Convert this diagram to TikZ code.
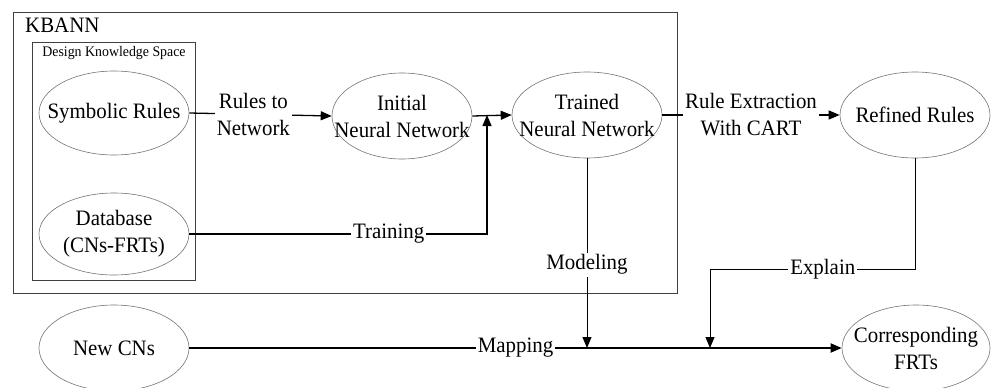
\documentclass[tikz,border=0pt]{standalone}
\usepackage{fontspec}
\setmainfont{Liberation Serif}[FakeStretch=0.95]
\usetikzlibrary{shapes.geometric,arrows.meta}
\begin{document}
\begin{tikzpicture}[x=1pt,y=-1pt,
  txt/.style={font=\fontsize{22}{27}\selectfont},
  ell/.style={ellipse, draw=black!55, line width=0.6pt, inner sep=0pt},
  etxt/.style={txt, align=center, inner sep=0pt},
  boxline/.style={draw=black!75, line width=0.8pt},
  conn/.style={line width=1.3pt, draw=black},
  arr/.style={conn, -{Triangle[length=11pt,width=9pt]}},
  lbl/.style={fill=white, inner sep=2pt, align=center, txt}
]
\useasboundingbox (0,0) rectangle (991,388);
% boxes
\draw[boxline] (13,12) rectangle (677,293);
\node[txt, anchor=base west, inner sep=0pt] (kbann) at (25,32) {KBANN};
\draw[boxline] (32,42) rectangle (195,280);
\node[font=\fontsize{14.6}{16}\selectfont, inner sep=0pt] (dks) at (114,53) {Design Knowledge Space};
% ellipses
\node[ell, minimum width=150pt, minimum height=84pt] (sym) at (114,113) {};
\node[etxt] (symt) at (sym) {Symbolic Rules};
\node[ell, minimum width=150pt, minimum height=82pt] (db) at (114,234) {};
\node[etxt] (dbt) at (db) {Database\\(CNs-FRTs)};
\node[ell, minimum width=140pt, minimum height=86pt] (init) at (402,116) {};
\node[etxt] (initt) at (init) {Initial\\Neural Network};
\node[ell, minimum width=150pt, minimum height=86pt] (tr) at (587,115) {};
\node[etxt] (trt) at (tr) {Trained\\Neural Network};
\node[ell, minimum width=150pt, minimum height=86pt] (ref) at (915,115) {};
\node[etxt] (reft) at (ref) {Refined Rules};
\node[ell, minimum width=150pt, minimum height=86pt] (new) at (114,348) {};
\node[etxt] (newt) at (new) {New CNs};
\node[ell, minimum width=148pt, minimum height=86pt] (cor) at (916,348) {};
\node[etxt] (cort) at (cor) {Corresponding\\FRTs};
% junctions
\coordinate (tj) at (487,115);
\coordinate (exj) at (710,269);
% connectors
\draw[arr] (sym.east) -- node[lbl, pos=0.45]{Rules to\\Network} (init.west);
\draw[arr] (init.east) -- (tr.west);
\draw[arr] (db.east) -- node[lbl, pos=0.67]{Training} (tj |- db.east) -- (tj);
\draw[arr] (tr.east) -- node[lbl]{Rule Extraction\\With CART} (ref.west);
\draw[arr, line width=1pt] (tr.south) -- node[lbl, pos=0.56]{Modeling} (tr.south |- new.east);
\draw[arr, line width=1pt] (ref.south) -- (ref.south |- exj) -- node[lbl, pos=0.45]{Explain} (exj) -- (exj |- new.east);
\draw[arr, line width=1.8pt] (new.east) -- node[lbl]{Mapping} (cor.west);
\end{tikzpicture}
\end{document}
